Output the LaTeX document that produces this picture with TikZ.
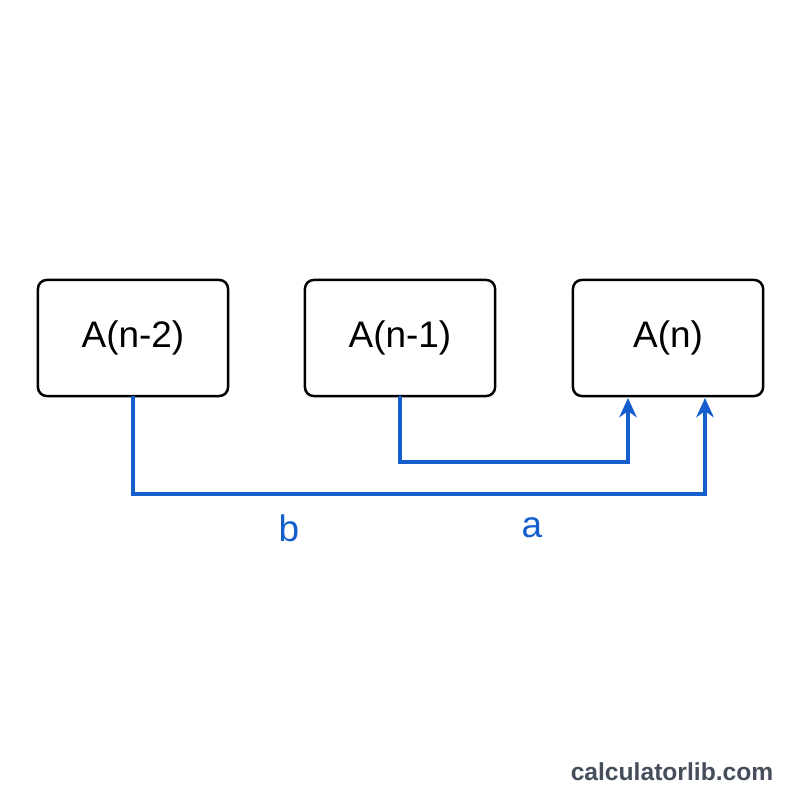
\documentclass[tikz,border=0pt]{standalone}
\usepackage{fontspec}
\setmainfont{Liberation Sans}
\usetikzlibrary{arrows.meta}
\definecolor{lnblue}{RGB}{20,95,205}
\definecolor{wm}{RGB}{70,78,92}
\begin{document}
\begin{tikzpicture}[x=0.01cm,y=-0.01cm,
  box/.style={draw=black,line width=0.7pt,rounded corners=2.5pt,minimum width=1.9cm,minimum height=1.16cm,inner sep=0pt,font=\fontsize{10.5}{12}\selectfont},
  conn/.style={draw=lnblue,line width=0.9pt,-{Stealth[length=5.5pt,width=5pt]}},
  lab/.style={text=lnblue,font=\fontsize{10.5}{12}\selectfont}]
\useasboundingbox (0,0) rectangle (800,800);
\fill[white] (0,0) rectangle (800,800);
\node[box] (b1) at (133,338) {A(n-2)};
\node[box] (b2) at (400,338) {A(n-1)};
\node[box] (b3) at (668,338) {A(n)};
\coordinate (s2) at (400,396);
\coordinate (s1) at (133,396);
\coordinate (e2) at (628,398);
\coordinate (e1) at (705,398);
\draw[conn] (s2) -- (400,462) -- (628,462) -- (e2);
\draw[conn] (s1) -- (133,494) -- (705,494) -- (e1);
\node[lab] (lb) at (289,528) {b};
\node[lab] (la) at (532,528) {a};
\node[text=wm,font=\bfseries\fontsize{7}{8}\selectfont] (w) at (672,772) {calculatorlib.com};
\end{tikzpicture}
\end{document}
